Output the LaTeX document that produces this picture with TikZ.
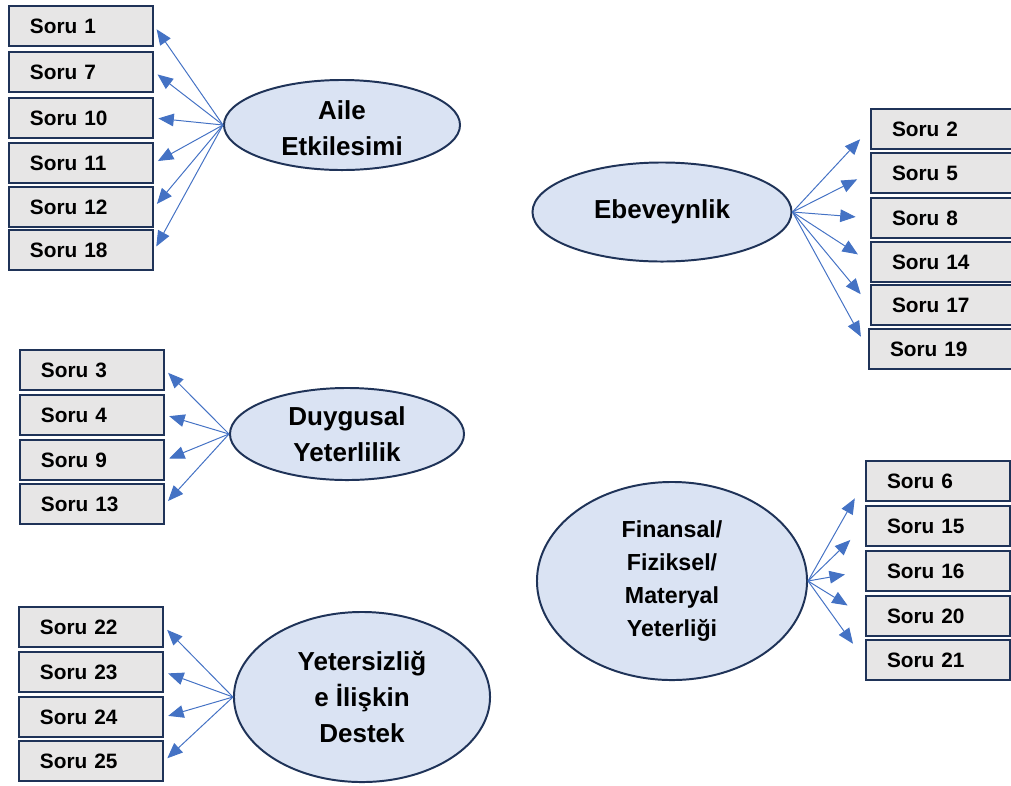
\documentclass[tikz,border=0pt]{standalone}
\usepackage{fontspec}
\setmainfont{Liberation Sans}
\usetikzlibrary{arrows.meta,shapes.geometric}
\definecolor{kutu}{HTML}{E7E6E6}
\definecolor{cerceve}{HTML}{1F3358}
\definecolor{elips}{HTML}{DAE3F3}
\definecolor{okrenk}{HTML}{4472C4}
\tikzset{
  soru/.style={draw=cerceve,line width=1.6pt,fill=kutu,minimum height=1.0cm,text width=2.55cm,inner xsep=0.53cm,align=left,font=\fontsize{14.8}{16}\selectfont\bfseries},
  faktor/.style={ellipse,draw=cerceve,line width=1.4pt,fill=elips,inner sep=0pt},
  fyazi/.style={align=center,font=\fontsize{18.5}{25.5}\selectfont\bfseries},
  okcizgi/.style={draw=okrenk,line width=0.7pt,-{Triangle[length=11pt,width=9pt]}}
}
\begin{document}
\begin{tikzpicture}[x=0.025cm,y=-0.025cm]
        \useasboundingbox (0,0) rectangle (1011,785);
        %Aile Etkilesimi;
            \node[faktor,minimum width=5.9cm,minimum height=2.25cm,label={[fyazi,yshift=-2pt]center:Aile\\Etkilesimi}] (aile) at (342,125) {};
            \node[soru] (s1) at (81,26) {Soru 1};
            \node[soru] (s7) at (81,72) {Soru 7};
            \node[soru] (s10) at (81,118) {Soru 10};
            \node[soru] (s11) at (81,163) {Soru 11};
            \node[soru] (s12) at (81,207) {Soru 12};
            \node[soru] (s18) at (81,250) {Soru 18};
            \draw[okcizgi,shorten >=0.1cm] (aile.west) -- (s1.east);
            \draw[okcizgi,shorten >=0.1cm] (aile.west) -- (s7.east);
            \draw[okcizgi,shorten >=0.1cm] (aile.west) -- (s10.east);
            \draw[okcizgi,shorten >=0.1cm] (aile.west) -- (s11.east);
            \draw[okcizgi,shorten >=0.1cm] (aile.west) -- (s12.east);
            \draw[okcizgi,shorten >=0.1cm] (aile.west) -- (s18.east);
        %Ebeveynlik;
            \node[faktor,minimum width=6.475cm,minimum height=2.475cm,label={[fyazi]center:Ebeveynlik}] (ebev) at (662,212) {};
            \node[soru] (s2) at (943,129) {Soru 2};
            \node[soru] (s5) at (943,173) {Soru 5};
            \node[soru] (s8) at (943,218) {Soru 8};
            \node[soru] (s14) at (943,262) {Soru 14};
            \node[soru] (s17) at (943,305) {Soru 17};
            \node[soru] (s19) at (941,349) {Soru 19};
            \draw[okcizgi,shorten >=0.35cm] (ebev.east) -- (s2.west);
            \draw[okcizgi,shorten >=0.35cm] (ebev.east) -- (s5.west);
            \draw[okcizgi,shorten >=0.35cm] (ebev.east) -- (s8.west);
            \draw[okcizgi,shorten >=0.35cm] (ebev.east) -- (s14.west);
            \draw[okcizgi,shorten >=0.35cm] (ebev.east) -- (s17.west);
            \draw[okcizgi,shorten >=0.35cm] (ebev.east) -- (s19.west);
        %Duygusal Yeterlilik;
            \node[faktor,minimum width=5.85cm,minimum height=2.3cm,label={[fyazi]center:Duygusal\\Yeterlilik}] (duyg) at (347,434) {};
            \node[soru] (s3) at (92,370) {Soru 3};
            \node[soru] (s4) at (92,415) {Soru 4};
            \node[soru] (s9) at (92,460) {Soru 9};
            \node[soru] (s13) at (92,504) {Soru 13};
            \draw[okcizgi,shorten >=0.1cm] (duyg.west) -- (s3.east);
            \draw[okcizgi,shorten >=0.1cm] (duyg.west) -- (s4.east);
            \draw[okcizgi,shorten >=0.1cm] (duyg.west) -- (s9.east);
            \draw[okcizgi,shorten >=0.1cm] (duyg.west) -- (s13.east);
        %Yetersizlige Iliskin Destek;
            \node[faktor,minimum width=6.4cm,minimum height=4.25cm,label={[fyazi]center:Yetersizliğ\\e İlişkin\\Destek}] (yeter) at (362,697) {};
            \node[soru] (s22) at (91,627) {Soru 22};
            \node[soru] (s23) at (91,672) {Soru 23};
            \node[soru] (s24) at (91,717) {Soru 24};
            \node[soru] (s25) at (91,761) {Soru 25};
            \draw[okcizgi,shorten >=0.1cm] (yeter.west) -- (s22.east);
            \draw[okcizgi,shorten >=0.1cm] (yeter.west) -- (s23.east);
            \draw[okcizgi,shorten >=0.1cm] (yeter.west) -- (s24.east);
            \draw[okcizgi,shorten >=0.1cm] (yeter.west) -- (s25.east);
        %Finansal/Fiziksel/Materyal Yeterligi;
            \node[faktor,minimum width=6.75cm,minimum height=4.95cm,label={[fyazi,font=\fontsize{16.5}{23.5}\selectfont\bfseries]center:Finansal/\\Fiziksel/\\Materyal\\Yeterliği}] (fin) at (672,581) {};
            \node[soru] (s6) at (938,481) {Soru 6};
            \node[soru] (s15) at (938,526) {Soru 15};
            \node[soru] (s16) at (938,571) {Soru 16};
            \node[soru] (s20) at (938,616) {Soru 20};
            \node[soru] (s21) at (938,660) {Soru 21};
            \draw[okcizgi,shorten >=0.5cm] (fin.east) -- (s6.west);
            \draw[okcizgi,shorten >=0.5cm] (fin.east) -- (s15.west);
            \draw[okcizgi,shorten >=0.5cm] (fin.east) -- (s16.west);
            \draw[okcizgi,shorten >=0.5cm] (fin.east) -- (s20.west);
            \draw[okcizgi,shorten >=0.5cm] (fin.east) -- (s21.west);
\end{tikzpicture}
\end{document}
